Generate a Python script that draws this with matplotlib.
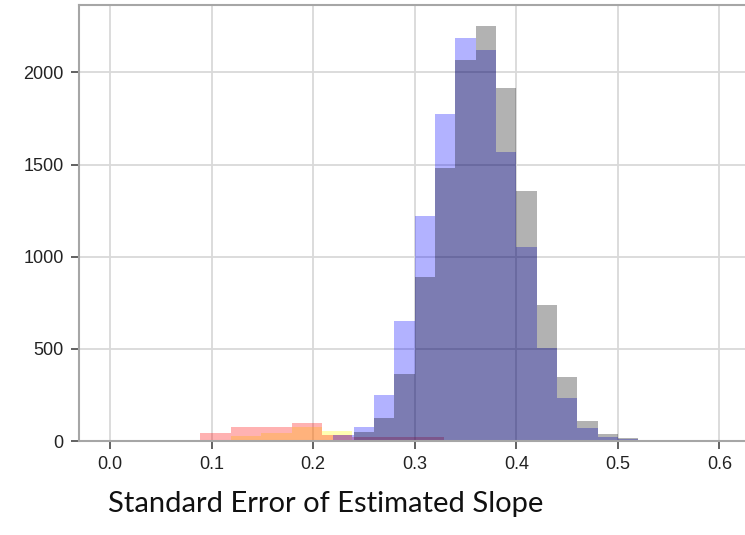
import matplotlib
matplotlib.use("Agg")
import matplotlib.pyplot as plt
import numpy as np

# Bin edges and counts for each simulated set of slope standard errors.
BLUE_EDGES = [0.22, 0.24, 0.26, 0.28, 0.30, 0.32, 0.34, 0.36, 0.38, 0.40,
              0.42, 0.44, 0.46, 0.48, 0.50, 0.52]
BLUE_COUNTS = [30, 78, 250, 653, 1221, 1773, 2185, 2122, 1567, 1055,
               505, 233, 70, 22, 12]

GRAY_EDGES = [0.24, 0.26, 0.28, 0.30, 0.32, 0.34, 0.36, 0.38, 0.40,
              0.42, 0.44, 0.46, 0.48, 0.50, 0.52]
GRAY_COUNTS = [50, 123, 362, 892, 1480, 2068, 2252, 1914, 1358,
               738, 347, 110, 40, 15]

RED_EDGES = [0.0887, 0.1187, 0.1487, 0.1787, 0.2087, 0.2387, 0.2687,
             0.2987, 0.3287, 0.3587, 0.3887]
RED_COUNTS = [45, 78, 78, 99, 33, 20, 23, 23, 3, 1]

YELLOW_EDGES = [0.0887, 0.1187, 0.1487, 0.1787, 0.2087, 0.2387]
YELLOW_COUNTS = [3, 27, 42, 78, 56]

X_TICKS = [0.0, 0.1, 0.2, 0.3, 0.4, 0.5, 0.6]
Y_TICKS = [0, 500, 1000, 1500, 2000]


def draw_hist(ax, edges, counts, color, alpha):
    edges = np.array(edges)
    ax.hist(edges[:-1], bins=edges, weights=counts, color=color, alpha=alpha)


def main():
    plt.rcParams["font.family"] = ["Liberation Sans", "DejaVu Sans"]

    fig = plt.figure(figsize=(7.45, 5.35), dpi=100)
    ax = fig.add_axes([79 / 745, 94 / 535, 673 / 745, 436 / 535])
    ax.set_axisbelow(True)

    # Low-error sets first, then the two wide distributions on top.
    draw_hist(ax, YELLOW_EDGES, YELLOW_COUNTS, "yellow", 0.3)
    draw_hist(ax, RED_EDGES, RED_COUNTS, "red", 0.3)
    draw_hist(ax, BLUE_EDGES, BLUE_COUNTS, "blue", 0.3)
    draw_hist(ax, GRAY_EDGES, GRAY_COUNTS, "black", 0.3)

    ax.set_xlim(-0.0305, 0.632)
    ax.set_ylim(0, 2366)
    ax.set_xticks(X_TICKS)
    ax.set_yticks(Y_TICKS)

    ax.grid(True, color="#d9d9d9", linewidth=1.3)
    for side in ["left", "bottom", "top", "right"]:
        ax.spines[side].set_color("#a6a6a6")
        ax.spines[side].set_linewidth(1.5)
    ax.tick_params(axis="both", direction="out", length=6, width=1.3,
                   color="#555555", labelsize=13, labelcolor="#222222", pad=5)

    # Caption sits under the plot, a little left of the axes centre.
    fig.text(326 / 745, 23 / 535, "Standard Error of Estimated Slope",
             family="Lato", fontsize=21, color="#111111",
             ha="center", va="baseline")

    fig.savefig("out.png", dpi=100)


if __name__ == "__main__":
    main()
